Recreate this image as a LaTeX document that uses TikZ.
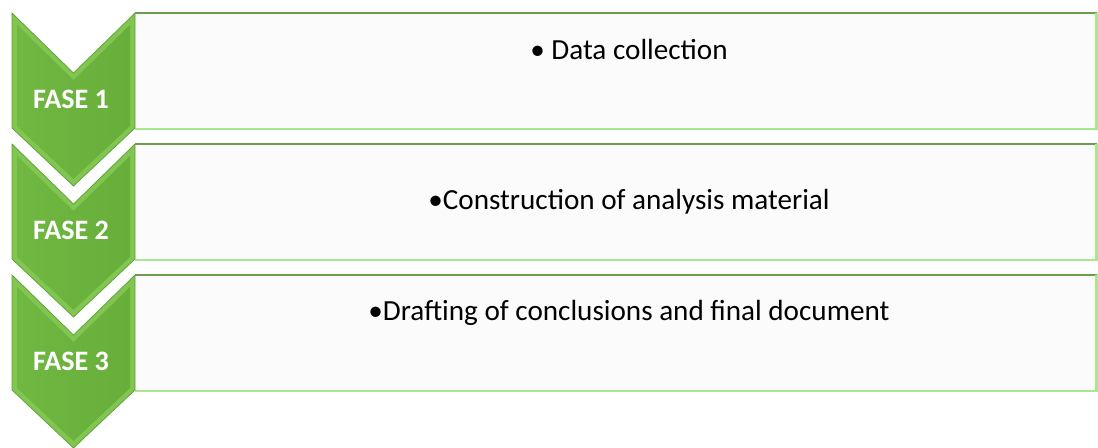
\documentclass[tikz,border=0pt]{standalone}
\usepackage{fontspec}
\setmainfont{Carlito}
\usepackage{tikz}
\usetikzlibrary{calc}
\definecolor{faseGreen}{HTML}{70B842}
\definecolor{faseDeep}{HTML}{67AE3A}
\definecolor{faseLight}{HTML}{80C650}
\definecolor{faseEdge}{HTML}{5E9F36}
\definecolor{boxTop}{HTML}{6C9C4E}
\definecolor{boxBottom}{HTML}{A8E88C}
\definecolor{boxFill}{HTML}{FBFBFB}
\tikzset{
  fase box/.style={fill=boxFill,inner sep=0pt,anchor=north west,
    minimum width=19.22cm,minimum height=2.3cm},
  fase outer/.style={fill=faseLight,draw=faseEdge,line width=0.4pt},
  fase inner/.style={left color=faseGreen,right color=faseDeep},
  fase label/.style={text=white,anchor=base,font=\bfseries\fontsize{16}{19}\selectfont},
  step text/.style={anchor=base,font=\fontsize{16.6}{20}\selectfont},
}

\begin{document}
\begin{tikzpicture}[x=0.02cm,y=-0.02cm]
\useasboundingbox (0,0) rectangle (1098,447);
\foreach[count=\n,evaluate=\n as \ytop using {13+131*(\n-1)}] \txt/\dy in {%
  {• Data collection}/46,
  {•Construction of analysis material}/65,
  {•Drafting of conclusions and final document}/45} {
  % text panel
  \node[fase box] (box\n) at (135,\ytop) {};
  \draw[boxTop,line width=1.2pt] (box\n.north west) -- (box\n.north east);
  \draw[boxBottom,line width=1.2pt] (box\n.south west) -- (box\n.south east)
    -- (box\n.north east);
  % chevron
  \path[fase outer] (12,\ytop) -- (73.5,\ytop+60) -- (135,\ytop)
    -- (135,\ytop+115) -- (73.5,\ytop+173) -- (12,\ytop+115) -- cycle;
  \path[fase inner] (17,\ytop+12) -- (73.5,\ytop+67) -- (130,\ytop+12)
    -- (130,\ytop+113) -- (73.5,\ytop+166) -- (17,\ytop+113) -- cycle;
  \node[fase label] (fase\n) at (71,\ytop+95) {FASE \n};
  \node[step text] (item\n) at (629,\ytop+\dy) {\txt};
}
\end{tikzpicture}
\end{document}
